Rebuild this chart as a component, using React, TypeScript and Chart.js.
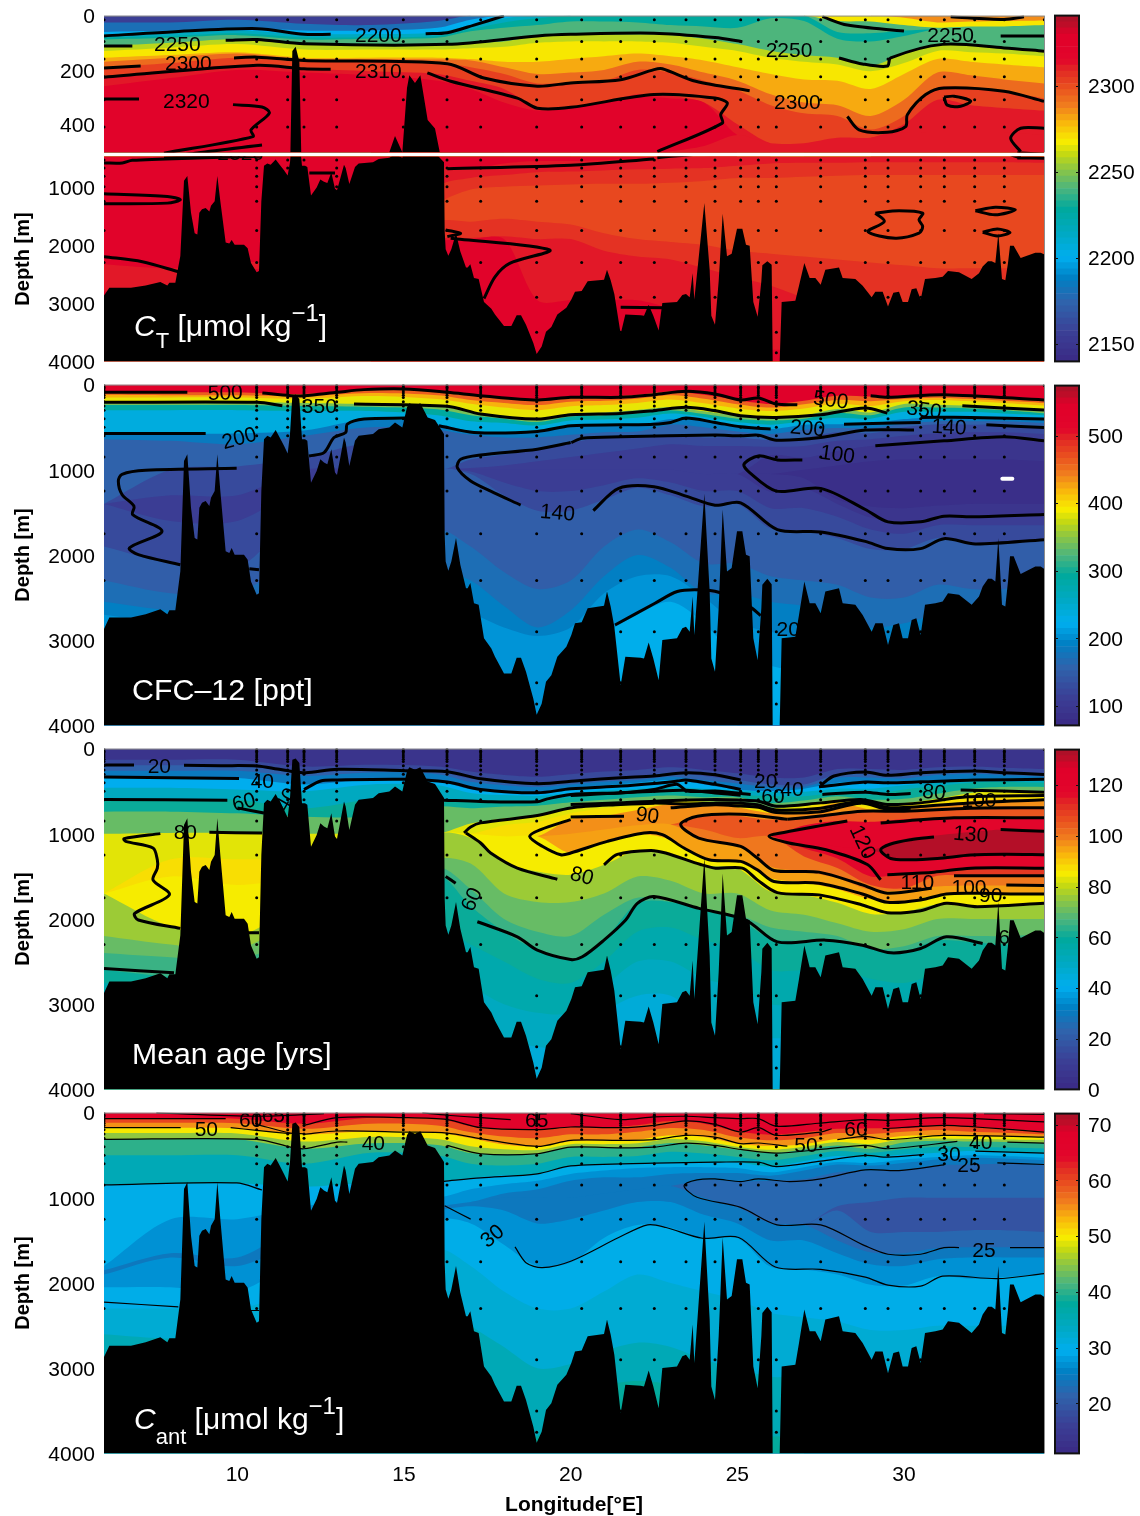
import React, { useEffect, useRef } from "react";
import { Chart, registerables } from "chart.js";
Chart.register(...registerables);

const FONT = "'Liberation Sans', Arial, sans-serif";

// ---------- shared geography ----------
const gridLon = [6,8,10,12,14,16,17,18,19,20,21,22,23,24,25,26,27,28,29,30,31,32,33,34.2];
const seabedLon = [6,6.16,6.81,7.25,7.69,7.9,7.96,8.14,8.29,8.4,8.5,8.61,8.72,8.8,8.86,8.94,9.05,9.16,9.21,9.32,9.4,9.49,9.65,9.76,9.83,9.92,10.2,10.31,10.41,10.58,10.65,10.72,10.8,10.9,11,11.15,11.27,11.4,11.51,11.58,11.65,11.75,11.86,11.94,12.03,12.1,12.21,12.38,12.49,12.6,12.7,12.82,12.93,12.99,13.09,13.2,13.25,13.36,13.53,13.64,14.07,14.24,14.56,14.73,14.95,15.09,15.16,15.33,15.49,15.71,15.93,16.2,16.22,16.25,16.33,16.42,16.56,16.69,16.86,16.91,16.99,17.1,17.24,17.4,17.62,17.73,18,18.22,18.38,18.51,18.66,18.88,18.98,19.13,19.26,19.42,19.6,19.87,20.02,20.13,20.33,20.51,21,21.09,21.2,21.31,21.5,21.64,22.1,22.2,22.34,22.48,22.64,22.75,23.19,23.35,23.46,23.57,23.66,23.71,23.81,24.01,24.17,24.22,24.33,24.44,24.56,24.69,24.83,24.99,25.15,25.26,25.37,25.48,25.61,25.72,25.75,25.9,26.03,26.06,26.27,26.33,26.74,26.85,27.01,27.17,27.34,27.5,27.64,28.05,28.16,28.54,28.76,29.03,29.14,29.36,29.52,29.68,29.85,29.96,30.12,30.23,30.37,30.5,30.63,30.94,31.16,31.32,31.65,32.03,32.25,32.36,32.52,32.63,32.74,32.83,32.94,33.04,33.12,33.18,33.29,33.5,33.94,34.1,34.24];
const seabedDepth = [2868,2735,2735,2695,2636,2695,2648,2648,2192,896,817,1446,1800,1819,1446,1387,1367,1426,1328,1250,817,1250,1957,1976,1917,1996,1996,2055,2310,2467,2448,1250,640,601,621,534,621,719,809,581,130,115,169,640,640,660,1151,1014,876,915,935,758,1033,1061,856,621,680,955,660,601,581,523,503,444,503,267,220,248,220,385,416,581,1760,2075,2185,2075,1800,2114,2389,2389,2330,2566,2585,2978,3096,3194,3391,3391,3206,3206,3371,3686,3874,3745,3489,3411,3194,3077,2939,2802,2790,2625,2597,2428,2605,2841,3529,3194,3206,3214,3026,3214,3470,2998,2978,2860,2841,2900,2487,2939,2389,1281,2428,3214,3371,2625,1466,2193,2153,1721,1721,1996,2016,2978,3234,2625,2350,2279,2342,4000,4000,2978,2959,2703,2310,2566,2566,2684,2428,2389,2566,2585,2703,2900,2802,2802,3057,2821,2802,2978,2978,2762,2743,2939,2585,2566,2546,2448,2467,2585,2487,2369,2279,2279,2310,1800,2585,2605,2310,2016,2016,2224,2134,2134,2173];
const stationLon = [6,10.58,11.51,12,12.98,14.98,16.29,17.3,18.98,20.33,21.5,22.51,23.46,24.33,25.1,25.63,26.17,27.5,28.84,29.52,30.5,31.21,32.12,33.01,34.21];
const stationBottom = [2860,2440,800,640,1050,500,2180,2580,3850,2780,3520,3420,2830,3360,1720,3200,4000,2680,2700,3050,2930,2530,2560,2600,2170];
const levelsCT = [15,95,160,225,310,410,540,680,820,1000,1250,1750,2300,2900,3500,3850];
const levelsDense = [10,30,50,75,100,125,150,200,250,300,400,500,600,850,1250,1750,2300,2900,3500,3750];

// ---------- colour ramp of the colour bars ----------
const rampAt = [0,.08,.17,.24,.3,.37,.44,.5,.56,.6,.635,.69,.74,.8,.84,.87,.945,.97,1];
const rampHex = ["#3A2A85","#3B3F95","#2F63AC","#0080C4","#00AEEF","#00A9C2","#00A99D","#4DB57C","#93C83E","#C7DA10","#F7EC00","#F9B60C","#F07C1E","#E8481F","#E22A24","#E2062B","#E0002A","#C00C28","#A81228"];
const barSteps = 56;

// ---------- CT ----------
const ctTicks = [2150,2200,2250,2300];
const ctLayers: [number, number[]][] = [
[2285,[0,0,0,0,0,0,0,0,0,0,0,0,0,0,0,0,0,0,0,0,0,0,0,0]],
[2268,[0,0,0,0,0,0,0,0,0,0,0,0,0,0,0,0,0,0,0,8,25,22,20,18]],
[2240,[0,0,0,0,0,0,0,0,0,0,0,0,0,0,0,0,0,20,22,35,45,40,40,35]],
[2155,[0,0,0,0,0,0,0,0,0,0,0,0,0,0,0,0,0,60,65,55,48,42,42,38]],
[2180,[25,25,15,30,35,20,0,0,0,0,0,0,0,0,0,0,0,60,65,55,48,42,42,38]],
[2200,[60,55,45,55,55,45,15,0,0,0,0,0,0,0,0,0,0,60,65,55,48,42,42,38]],
[2215,[68,62,55,68,68,62,35,10,0,0,0,0,0,0,0,0,0,60,65,55,48,42,42,38]],
[2228,[80,75,65,80,80,75,50,25,10,0,0,0,0,0,0,0,0,60,65,55,48,42,42,38]],
[2240,[88,82,72,88,85,82,58,45,35,22,22,25,35,40,45,10,20,85,95,75,48,42,42,38]],
[2258,[112,100,87,107,107,105,100,95,75,70,70,70,72,85,105,130,145,155,185,140,106,110,120,131]],
[2268,[130,118,105,125,125,125,120,115,100,95,95,95,100,115,130,155,170,180,205,175,130,135,140,150]],
[2280,[155,145,135,155,155,155,160,170,170,160,150,140,150,165,190,215,235,240,270,215,160,170,180,190]],
[2292,[170,155,140,160,160,162,165,190,215,210,200,170,180,210,240,290,320,330,370,310,210,220,235,250]],
[2302,[192,175,155,170,170,175,190,215,250,245,240,200,210,240,275,330,360,370,420,370,265,270,280,305]],
[2311,[227,200,183,196,205,215,240,270,340,338,320,290,295,320,400,470,470,450,450,400,310,330,340,350]],
[2322,[260,230,200,210,220,240,270,320,350,340,320,300,305,320,440,470,470,450,450,430,430,430,430,440]],
[2311,[2330,2400,2300,2300,2300,700,700,600,560,560,540,520,500,480,440,470,470,450,450,430,430,430,430,440]],
[2306,[2330,2400,2300,2300,2300,1000,850,800,750,740,720,700,690,680,640,600,590,590,580,580,580,580,580,590]],
[2300,[2330,2400,2300,2300,2300,1300,1050,1000,980,960,950,950,930,900,850,850,830,810,800,800,800,800,800,800]],
[2306,[2330,2400,2300,2300,2300,1600,1600,1550,1600,1650,1800,1900,1950,2000,2100,2150,2200,2250,2300,2350,2400,2400,2400,2400]],
[2311,[2330,2400,2300,2300,2300,1900,1880,1850,1900,1900,2100,2200,2250,2400,2550,2700,2900,3000,3100,3200,3250,3250,3300,3300]],
[2322,[2800,2800,2450,2400,2400,1950,1900,1900,2950,2950,2950,2950,3100,3400,3800,3800,3800,3800,3800,3800,3800,3800,3800,3800]],
];
const ctContours = [
[6,75,8,60,10.6,48,12,69,12.8,69],[15.65,67,16.3,63,17.1,35,18,1],
[6,112,6.85,112],[9.65,91,10.6,88,12,104,16.3,106,19,75,20,69,22.5,65,24.33,81,25.15,96],
[28.05,156,28.75,178,29.5,186,29.6,156,31.16,106,33,119,34.2,131],[27.55,4,28.3,35,30,57],[31.4,4,33,14,33.6,4],[32.9,75,34.2,75],
[6,193,7.1,186],[9.9,156,10.6,153,12,165,16.3,177,17.4,230,19,260,20,248,21.5,236,22.5,199,22.75,196,23.75,242,25.37,277],
[28.3,372,28.65,421,29.5,430,30.05,409,30.1,365,30.65,291,31.2,267,33,279,34.2,316],
[31.2,300,31.5,297,32,315,31.7,334,31.3,330,31.2,300],
[6,227,10.6,183,12,196,12.8,198],[15.7,211,16.4,242,18.4,304,19,341,20,338,22.5,291,24.33,304,24.7,322,24.5,365,24.55,396,22.6,501],
[22.5,523,20,632,16.3,690],[34.2,415,33.5,415,33.2,452,33.5,501],[33.4,505,34.2,511],
[6,307,7.05,307],[9.87,328,10.74,337,10.96,359,10.41,421,10.47,446,7.8,507],[6,592,6.55,592,6.85,546,8.8,506,10.74,477],[12.16,764,12.93,764],
[6,1120,7.9,1167,8.29,1224,7.9,1282,6,1293],[6,2202,7.15,2288,8.24,2461],
[16.4,1885,19.37,2087,18.17,2317,17.73,2547,17.4,2920],[16.25,1742,16.7,1800,16.3,1857],[21.5,3070,22.75,3080],
[29.14,1454,29.85,1414,30.56,1454,30.45,1569,30.56,1684,30.45,1799,29.74,1885,28.92,1771,29.41,1598,29.14,1454],
[32.14,1414,32.74,1351,33.34,1397,32.74,1483,32.14,1414],[32.36,1782,32.8,1725,33.18,1787,32.8,1845,32.36,1782],
];
const ctLabelsUpper: [string,number,number,number][] = [
["2250",8.2,100,0],["2300",8.53,170,0],["2320",8.47,311,0],["2200",14.23,67,0],["2310",14.23,200,0],["2250",26.55,122,0],["2300",26.8,315,0],["2250",31.4,70,0],
];
const ctLabelsLower: [string,number,number,number][] = [["2320",10.1,414,0]];

// ---------- CFC-12 ----------
const cfcTicks = [100,200,300,400,500];
const cfcLayers: [number, number[]][] = [
[540,[0,0,0,0,0,0,0,0,0,0,0,0,0,0,0,0,0,0,0,0,0,0,0,0]],
[460,[90,90,90,110,50,80,118,150,180,150,141,118,80,118,180,228,190,130,141,130,118,130,157,180]],
[420,[120,125,125,135,100,125,180,215,240,200,190,165,125,165,230,270,230,180,195,170,155,170,190,215]],
[385,[150,150,150,165,135,170,225,270,300,255,240,215,175,220,280,310,280,225,250,195,180,195,215,245]],
[340,[208,208,208,215,228,248,326,365,405,338,326,298,267,314,365,385,365,287,326,228,236,248,267,306]],
[290,[240,240,240,250,260,290,360,400,440,375,360,335,300,345,400,420,400,330,360,270,270,280,300,335]],
[235,[300,300,300,310,310,360,430,450,480,420,410,390,340,380,440,470,430,390,400,320,320,320,340,360]],
[185,[574,574,574,540,405,464,542,562,550,495,483,483,405,424,483,522,471,464,456,405,385,385,385,397]],
[155,[640,660,700,600,500,530,590,620,620,590,560,550,470,500,550,580,530,510,510,460,430,430,430,450]],
[125,[1400,1000,960,860,700,1000,880,820,770,680,620,610,590,620,620,650,620,560,570,500,465,470,470,500]],
[108,[1400,1300,1300,1000,1000,1000,980,950,900,850,800,750,700,720,720,730,720,660,640,600,570,560,560,580]],
[92,[1400,1300,1300,1000,1000,1000,1000,1000,1000,1000,1000,1000,1000,1050,1050,830,860,780,720,700,680,660,630,660]],
[80,[1400,1300,1300,1000,1000,1000,1000,1000,1000,1000,1000,1000,1000,1050,1050,1050,1000,950,900,880,880,880,880,900]],
[92,[1400,1300,1300,1000,1000,1000,1000,1000,1000,1000,1000,1000,1000,1050,1050,1050,1100,1350,1430,1450,1420,1400,1400,1400]],
[108,[1400,1300,1300,1000,1000,1000,1000,1000,1000,1000,1000,1000,1000,1050,1050,1260,1220,1400,1560,1610,1550,1530,1530,1530]],
[125,[1400,1600,1600,1200,1100,1000,1020,1150,1250,1250,1180,1100,1150,1250,1250,1450,1450,1550,1700,1750,1650,1650,1650,1650]],
[150,[1900,2100,2150,1500,1500,1000,1050,1300,1480,1480,1350,1210,1300,1430,1400,1690,1720,1800,1930,1930,1800,1860,1860,1820]],
[170,[2300,2450,2450,2000,2000,1700,1900,2200,2400,2300,1900,1700,1850,2100,2100,2250,2300,2350,2500,2500,2350,2400,2400,2200]],
[190,[2550,2650,2650,2500,2500,2200,2300,2600,2850,2650,2250,2000,2150,2450,2450,2550,2600,2700,2850,2800,2700,2700,2700,2500]],
[205,[2700,2800,2800,2800,2800,2800,2700,2850,2950,2850,2450,2250,2250,2500,2800,2900,3000,3100,3200,3200,3200,3200,3200,3200]],
[225,[3400,3400,3400,3400,3400,3400,3400,3800,3900,3500,2950,2700,2550,2800,3200,3300,3400,3500,3500,3500,3500,3500,3500,3500]],
];
const cfcContours = [
[6,90,8.5,90],[10.75,98,11.6,130,12,130,13,90,13.8,59,15,51,16.3,90,17.3,130,19,181,20,149,21.5,149,22.5,118,23.46,79,24.33,110,25.1,181,25.63,157,26.17,228,26.8,236],[29,130,29.5,149,31.2,118,34.2,181],
[6,208,10.6,208,11.35,248],[13.5,228,16.3,255,17.3,346,19,405,20,354,21.5,338,22.5,306,23.46,267,24.33,306,25.1,365,26.17,385,27.5,354,28.84,275,29.5,334],[31.75,248,34.2,299],
[6,574,9.05,574],[12.15,837,12.6,798,12.9,621,13.25,562,13.3,464,13.8,405,15.05,393],[16.05,483,17.1,562,19,550,20,483,21.5,472,22.5,464,23,444,23.46,393,24.33,444,25.1,495,26,522],[28.2,464,30.5,444],[30.5,385,32,385,34.2,405],
[20,680,19,758,17.3,825,16.7,876,16.6,975,17,1132,17.6,1250,18.5,1415],[20.02,680,20.35,629,21.5,613,24.33,593,25.1,601,25.63,593,26.17,652,27.5,621,28.84,534,30.3,534],
[9.98,983,7.25,1006,6.54,1053,6.43,1132,6.54,1289,6.9,1427,6.86,1525,7.74,1721,6.76,1918,7.03,1996,8.29,2114],[10.36,2161,10.65,2173],
[20.68,1478,21.44,1218,22.5,1198,23.46,1309,24.33,1415,25.1,1387,26.2,1702,27.5,1729,28.84,1840,29.52,1925,30.5,1925,31.2,1808,32.14,1871,34.2,1820],
[29.14,719,31.2,660,33,613,34.2,660],[32.47,472,34.2,503],
[26.95,884,26.2,884,25.63,837,25.2,935,25.37,1034,26.17,1250,27.5,1218,28.84,1466,29.52,1611,30.5,1611,31.2,1544,32.14,1552,34.2,1525],
[21.33,2822,22.53,2566,23.2,2429,23.8,2409,24.44,2437,25.37,2606,25.7,2712],
];
const cfcLabels: [string,number,number,number][] = [
["500",9.64,83,-2],["350",12.46,237,0],["200",10.06,615,-15],["140",19.6,1490,5],["500",27.8,166,8],["350",30.6,284,8],["200",27.1,497,5],["140",31.35,485,3],["100",28,805,8],["200",26.7,2860,0],
];
const cfcHole = [32.95,1105,33.25,1105];

// ---------- mean age ----------
const ageTicks = [0,20,40,60,80,100,120];
const ageLayers: [number, number[]][] = [
[5,[0,0,0,0,0,0,0,0,0,0,0,0,0,0,0,0,0,0,0,0,0,0,0,0]],
[14,[130,130,130,210,190,210,270,310,330,300,270,250,220,250,290,340,340,240,240,250,220,210,225,240]],
[22,[192,196,200,283,243,271,354,393,413,381,342,322,283,322,369,420,420,303,303,314,275,263,283,303]],
[30,[260,260,260,320,280,300,390,430,450,420,390,370,330,370,410,450,450,340,340,350,310,295,310,330]],
[40,[334,334,345,420,365,381,479,499,511,460,432,401,369,420,479,499,470,401,381,381,369,354,354,361]],
[50,[460,460,480,500,420,430,520,545,555,525,490,470,450,470,490,510,505,470,470,430,400,370,365,370]],
[60,[597,597,600,700,600,610,610,610,610,575,538,518,500,518,538,558,558,518,538,479,440,401,393,401]],
[70,[740,740,760,800,800,680,700,680,670,630,600,570,550,570,570,640,610,560,600,590,530,470,450,450]],
[83,[1000,990,990,1000,1000,1000,880,820,786,696,650,620,600,620,630,700,660,600,650,640,590,520,500,500]],
[87,[1700,1300,1300,1300,1300,1000,1000,900,860,760,700,670,620,645,660,720,690,620,680,660,630,560,530,530]],
[97,[1700,1500,1600,1500,1400,1000,1000,1030,1030,830,790,720,650,660,690,755,735,640,715,695,675,618,598,598]],
[105,[1700,1500,1600,1500,1400,1000,1000,1030,1030,1000,950,900,890,790,790,833,794,755,735,735,720,700,680,695]],
[118,[1700,1500,1600,1500,1400,1000,1000,1030,1030,1000,950,900,890,950,1050,1030,904,850,860,830,815,813,813,813]],
[132,[1700,1500,1600,1500,1400,1000,1000,1030,1030,1000,950,900,890,950,1050,1030,1100,1150,1190,1060,1020,980,950,960]],
[118,[1700,1500,1600,1500,1400,1000,1000,1030,1030,1000,950,900,890,950,1050,1030,1100,1150,1190,1305,1290,1250,1240,1245]],
[110,[1700,1500,1600,1500,1400,1000,1000,1030,1030,1000,950,900,890,950,1050,1030,1170,1290,1500,1470,1440,1420,1410,1403]],
[100,[1700,1500,1600,1500,1400,1000,1000,1030,1030,1000,950,900,890,950,1050,1030,1265,1400,1600,1640,1493,1493,1493,1493]],
[95,[1700,1500,1600,1500,1400,1000,1000,1030,1030,1000,950,900,890,1069,1140,1383,1442,1521,1658,1666,1619,1607,1607,1607]],
[85,[1700,1500,1600,1500,1400,1000,1000,1030,1030,1226,1089,1002,1069,1297,1324,1521,1572,1650,1768,1788,1717,1698,1706,1706]],
[76,[1700,2090,2200,1800,1500,1000,1050,1344,1442,1480,1364,1195,1240,1370,1403,1680,1717,1810,1940,1920,1830,1855,1830,1815]],
[70,[2200,2300,2350,2000,1800,1300,1350,1700,1800,1800,1700,1500,1550,1700,1700,1900,1950,2050,2150,2120,2000,2000,2000,2000]],
[65,[2400,2450,2480,2200,2000,1400,1650,2000,2150,2200,1950,1750,1800,1950,1950,2100,2150,2200,2350,2320,2200,2200,2200,2180]],
[60,[2593,2680,2700,2500,2300,1500,1850,2150,2366,2476,2248,1816,1800,1890,1990,2230,2260,2270,2340,2380,2250,2270,2300,2300]],
[55,[2750,2800,2800,2800,2600,2100,2300,2500,2700,2750,2500,2150,2100,2250,2350,2600,2600,2600,2700,2750,2650,2650,2700,2650]],
[50,[2850,3000,3000,3000,3000,2700,2800,3000,3100,3100,2800,2500,2500,2700,2800,3000,3000,3000,3100,3200,3200,3200,3200,3200]],
[45,[3000,3300,3300,3300,3300,3100,3200,3400,3500,3500,3100,2900,2900,3200,3400,3400,3400,3400,3500,3500,3500,3500,3500,3500]],
];
const ageContours = [
[6,192,6.9,192],[8.4,196,9.5,200,10.6,204,11.2,240,11.6,265,12.05,283,13,243,15,259,16.3,271,17.3,354,19,413,20.3,375,21.5,342,22.5,322,23.46,283,24.33,307,25.1,369],[27.5,432,27.9,322,28.84,275,29.5,314,30.5,283,32.1,263,33,283,34.2,303],
[6,334,10.05,350],[12,480,12.5,380,13,369,15,361,16.3,393,17.3,479,19,519,20,472,21.5,440,22.5,409,23.2,381,23.46,369,24.33,420,25.1,479],
[20,550,21.5,519,22.5,479,23.2,420,23.5,499,24.33,499,25.4,538],[27.45,448,28.84,393,29.5,401,30.5,390,32.1,370,34.2,361],
[6,597,9.7,605],[10,696,10.8,755],[16.2,605,17.3,620,19,625,19.3,590,20,538,21.5,520,22.5,500,23.46,490,24.33,520,25.1,548],[27.55,538,28.84,511,29.5,538,30.2,527],[31.7,487,34.2,511],
[20,656,21.5,637,22.5,617,24.33,597,25.1,605,25.63,617,26.17,676,27.5,637,28.7,597,29.5,656,30.5,637,31.9,566,34.2,550],
[16.8,990,17,920,17.3,872,19,786,20,696,21.5,656,22.5,640,23.46,650,24.33,640,25.1,640,25.6,660,26.17,720,27.5,700,28.7,620,29.5,690,30.5,680,31.9,640,34.2,600],
[7.69,998,6.6,1057,6.65,1089,7.47,1167,7.6,1305,7.6,1403,7.47,1541,7.96,1717,6.92,1934,7.03,2012,8.29,2110],[9.16,983,10.74,990],[10.3,2160,10.65,2160],
[16.86,990,17.3,1108,17.6,1226,18.4,1403,19.6,1533],[21,1364,21.4,1242,22.4,1195,22.85,1226,23.9,1360,24.35,1403,25.15,1403,25.6,1541,26.2,1690,27.45,1717,28.75,1835,29.5,1926,30.5,1902,31.27,1815,32.2,1855,34.2,1815],
[20,802,21.6,794],[23,695,24.33,660,25.1,675,25.63,690,26.17,750,27.5,740,28.7,640,29.5,710,30.2,700],
[20,833,19.1,950,18.77,1030,19.15,1147,19.7,1246,20,1226,21.1,1089,22.2,990,22.75,1010,23.4,1167,24.15,1305,25.1,1324,25.6,1423,26.1,1560,27.45,1580,28.75,1706,29.5,1804,30.5,1777,31.27,1706,32.2,1698,33.4,1706,34.2,1706],
[26.5,830,25.1,770,23.8,794,23.3,892,23.84,1050,25.1,1148,25.6,1285,26.1,1430,27.45,1450,28.75,1600,29.5,1698,30.83,1639],[26.5,830,27.5,790,28.75,735,30,735,32,700,34.2,695],[33.07,1600,34.2,1607],[31.5,1493,34.2,1493],
[28.3,850,27.5,904,26.57,971,25.95,1030,26.55,1108,27.66,1187,28.9,1360,29.3,1540],[29.3,872,31.5,813,34.2,813],[29.5,1480,30.9,1450,32,1403,34.2,1403],
[30.9,1037,30.2,1070,29.6,1120,29.3,1190,29.6,1290,30.2,1305,31,1290,32,1250,33,1240,34.2,1245],[32.9,950,34.2,971],
[17.2,2032,18.4,2209,19,2366,20,2476,20.35,2444,21,2248,21.65,2012,22,1816,22.5,1737,23.85,1875,25.25,2012,26.2,2268,27.65,2248,28.75,2307,29.6,2397,30.5,2346,31.27,2209,32.36,2287],[16.25,1500,16.55,1580],[6,2582,8.1,2630],
];
const ageLabels: [string,number,number,number][] = [
["20",7.66,190,0],["40",10.75,367,0],["60",10.2,615,-15],["80",8.44,970,0],["40",11.5,580,-60],["60",17.05,1750,-65],["90",22.3,770,8],["80",20.33,1480,15],["20",25.85,367,0],["40",26.64,460,0],["60",26.07,545,0],["80",30.9,497,5],["100",32.25,592,0],["120",28.74,1077,65],["130",32,994,5],["110",30.4,1562,0],["100",31.95,1610,0],["90",32.6,1704,0],["6",33,2200,0],
];

// ---------- Cant ----------
const cantTicks = [20,30,40,50,60,70];
const cantLayers: [number, number[]][] = [
[66,[0,0,0,0,0,0,0,0,0,0,0,0,0,0,0,0,0,0,0,0,0,0,0,0]],
[60,[71,71,71,130,59,70,160,190,200,169,177,149,100,130,220,260,230,190,185,185,150,165,185,228]],
[55,[120,120,125,190,130,150,230,280,300,255,255,225,180,205,290,325,300,240,250,225,205,225,235,255]],
[50,[177,177,185,255,220,235,300,375,397,335,326,318,267,287,365,390,370,310,318,275,267,272,278,287]],
[45,[240,240,245,340,285,310,395,430,440,370,370,360,310,335,400,435,400,345,370,310,305,310,315,320]],
[40,[314,314,314,424,360,380,475,490,483,405,413,405,358,385,432,475,432,385,424,350,330,340,345,358]],
[35,[500,500,500,600,470,500,600,620,600,520,520,510,460,480,520,560,510,450,470,430,400,405,410,420]],
[30,[849,835,830,870,820,806,766,735,719,625,610,593,585,582,582,633,570,510,523,491,470,452,460,475]],
[27,[1800,1250,1250,1100,1000,1000,900,840,800,720,680,650,640,640,650,700,640,580,590,550,520,500,510,530]],
[24.5,[1850,1650,1700,1300,1200,1100,1050,950,900,800,760,760,720,710,710,740,680,610,620,590,550,530,540,560]],
[22,[1850,1650,1700,1300,1200,1100,1050,1000,1000,1000,950,900,860,790,810,800,780,700,680,670,620,610,600,610]],
[19,[1850,1650,1700,1300,1200,1100,1050,1000,1000,1000,950,900,860,1000,1112,1300,1317,1100,1050,1000,1000,1000,1000,1000]],
[22,[1850,1650,1700,1300,1200,1100,1050,1000,1000,1000,950,900,860,1000,1112,1300,1317,1150,1400,1400,1400,1380,1380,1400]],
[24.5,[1850,1650,1700,1300,1200,1100,1050,1000,1000,1000,950,900,860,1000,1112,1300,1317,1500,1640,1650,1590,1580,1580,1584]],
[27,[1900,1700,1800,1500,1300,1150,1100,1150,1300,1250,1150,1050,1050,1200,1300,1500,1500,1650,1780,1800,1720,1700,1700,1700]],
[30,[2050,2050,2100,1700,1500,1250,1300,1550,1800,1760,1470,1320,1350,1480,1470,1810,1840,1900,2020,2030,1920,1950,1930,1890]],
[32,[2300,2300,2300,2100,2000,1600,1800,2100,2300,2300,2100,1900,2000,2100,2200,2350,2400,2450,2550,2550,2500,2500,2500,2450]],
[35,[2600,2650,2600,2600,2600,2200,2500,2750,3000,2950,2800,2700,2750,2900,3000,3100,3100,3200,3400,3400,3400,3400,3400,3400]],
[38,[3800,3800,3800,3800,3800,3800,3800,3700,3800,3300,3200,3150,3200,3400,3800,3800,3800,3800,3800,3800,3800,3800,3800,3800]],
];
const cantContours = [
[7.57,4,10.58,43,12.6,12],[15.55,4,16.3,31,17.3,59,18.2,83],[20,12,21.5,83,22.5,51,23.46,43,24.33,59,25.1,71,25.63,71,26.17,161,27.5,122,28.84,83,29.52,90,31.2,59,34.2,110],[32.4,12,34.2,20],
[6,71,9.65,71],[10.58,138,11.6,240,12,248],[12,149,13,59,15,59,16.3,83,17.3,177,19,200,20,169,21.5,177,22.5,149,23.46,98,24.33,138,25.1,228,25.63,177,26.17,267,27.5,228,27.83,189],[29.36,189,31.2,149,32.14,169,34.2,228],
[6,177,8.3,177],[9.8,177,10.58,208,11.6,248],[12,255,13,216,15,228,16.3,240,17.3,306,19,397,20,326,21.5,326,22.5,318,23.46,267,24.33,287,25.1,365,25.63,357,26.5,393],[28,318,28.84,279,29.52,318,31.2,267,34.2,287],
[6,314,10.58,314,11.6,405,12,424,13,346,13.3,346],[16.3,385,17.3,483,19,483,20,405,21.5,413,22.5,405,23.46,358,24.33,385,25.1,432,26.17,475,27.5,432,28.84,385,29.52,424,31.6,338],[33.1,346,34.2,358],
[6,849,9.98,825,10.74,908],[16.2,806,17.3,766,19,719,20,625,22.5,593,24.33,582,25.63,582,26.17,633,27.5,570,28.84,503,29.52,523,30.6,491],[32.14,452,34.2,475],
[31.2,613,29.85,680,28.84,672,27.5,778,26.57,810,25.63,778,25.1,810,24.33,778,23.79,790,23.4,857,23.79,994,25.1,1112,26.19,1317,27.5,1317,28.84,1564,29.52,1662,30.5,1662,31.2,1584,31.65,1584],[32.8,590,34.2,609],[33.18,1584,34.2,1584],
[16.22,1093,17,1250],[18.33,1576,18.66,1761,19.15,1820,20.02,1741,21.44,1466,22.31,1317,22.86,1348,23.95,1474,25.04,1466,26.14,1812,27.5,1839,28.84,1930,29.52,2024,30.5,2036,31.16,1918,32.8,1949,34.2,1890],
[6,2224,8.23,2279],[10.4,2322,10.65,2322],
];
const cantLabels: [string,number,number,number][] = [
["50",9.07,178,0],["60",10.4,83,0],["65",11.08,24,0],["65",18.98,83,0],["40",14.08,343,0],["30",17.66,1432,-40],["50",27.06,367,0],["60",28.56,178,0],["40",32.3,331,0],["30",31.35,473,0],["25",31.95,604,0],["25",32.4,1598,0],
];

// ---------- helpers ----------
function rampColor(f: number) {
  const t = Math.max(0, Math.min(1, f));
  let i = 0;
  while (i < rampAt.length - 2 && t > rampAt[i + 1]) i++;
  const k = (t - rampAt[i]) / (rampAt[i + 1] - rampAt[i]);
  const a = parseInt(rampHex[i].slice(1), 16), b = parseInt(rampHex[i + 1].slice(1), 16);
  const mix = (s: number) => Math.round(((a >> s) & 255) * (1 - k) + ((b >> s) & 255) * k);
  return `rgb(${mix(16)},${mix(8)},${mix(0)})`;
}

type Seg = { t: string; font: string; dy: number };
const reg = (s: number) => `${s}px ${FONT}`;
const ital = (s: number) => `italic ${s}px ${FONT}`;
const ctTitle: Seg[] = [{t:"C",font:ital(30),dy:0},{t:"T",font:reg(22),dy:12},{t:" [μmol kg",font:reg(30),dy:0},{t:"−1",font:reg(24),dy:-15},{t:"]",font:reg(30),dy:0}];
const cfcTitle: Seg[] = [{t:"CFC–12 [ppt]",font:reg(30.4),dy:0}];
const ageTitle: Seg[] = [{t:"Mean age [yrs]",font:reg(30.2),dy:0}];
const cantTitle: Seg[] = [{t:"C",font:ital(30),dy:0},{t:"ant",font:reg(22),dy:15},{t:" [μmol kg",font:reg(30),dy:0},{t:"−1",font:reg(24),dy:-15},{t:"]",font:reg(30),dy:0}];

type Panel = {
  top: number; bottom: number; ymin: number; ymax: number; yTicks: number[];
  layers: [number, number[]][]; vmin: number; vmax: number; contours: number[][];
  labels: [string, number, number, number][]; levels: number[]; lw: number;
  title?: Seg[]; titleX?: number; depthTitle?: boolean; xAxis?: boolean; topLine?: boolean; hole?: number[];
};

const pad = 14;
const off = 22; // layout padding plus the room Chart.js keeps for the end tick labels

function plotChart(canvas: HTMLCanvasElement, p: Panel) {
  const datasets: any[] = [];
  p.layers.forEach(([v, arr], i) => {
    const next = p.layers[i + 1]?.[1];
    const closed = (k: number) => !!next && next[k] === arr[k];
    datasets.push({
      data: gridLon.map((x, k) => ({ x, y: arr[k] })),
      borderWidth: 0, pointRadius: 0, fill: "start", tension: 0.3,
      backgroundColor: rampColor((v - p.vmin) / (p.vmax - p.vmin)), order: 1000 - i,
      segment: {
        backgroundColor: (c: any) => (closed(c.p0DataIndex) && closed(c.p1DataIndex) ? "rgba(0,0,0,0)" : undefined),
      },
    });
  });
  const dots: { x: number; y: number }[] = [];
  stationLon.forEach((x, i) => p.levels.forEach((y) => { if (y < stationBottom[i]) dots.push({ x, y }); }));
  datasets.push({ data: dots, showLine: false, pointRadius: 1.5, pointBackgroundColor: "#000", pointBorderWidth: 0, fill: false, order: 400 });
  datasets.push({
    data: seabedLon.map((x, k) => ({ x, y: seabedDepth[k] })),
    borderWidth: 0, pointRadius: 0, fill: "start", backgroundColor: "#000", tension: 0, order: 200,
  });
  p.contours.forEach((c) => {
    const pts: { x: number; y: number }[] = [];
    for (let i = 0; i < c.length; i += 2) pts.push({ x: c[i], y: c[i + 1] });
    datasets.push({ data: pts, borderColor: "#000", borderWidth: p.lw, pointRadius: 0, fill: false, tension: 0.3, order: 100 });
  });
  if (p.hole) datasets.push({
    data: [{ x: p.hole[0], y: p.hole[1] }, { x: p.hole[2], y: p.hole[3] }],
    borderColor: "#fff", borderWidth: 4, pointRadius: 0, fill: false, borderCapStyle: "round", order: 90,
  });

  const overlay = {
    id: "overlay",
    afterDatasetsDraw(ch: any) {
      const { ctx, chartArea: a, scales } = ch;
      ctx.save();
      ctx.beginPath(); ctx.rect(a.left, a.top, a.right - a.left, a.bottom - a.top); ctx.clip();
      ctx.fillStyle = "#000"; ctx.font = reg(21); ctx.textAlign = "center"; ctx.textBaseline = "middle";
      p.labels.forEach(([t, lon, d, rot]) => {
        ctx.save();
        ctx.translate(scales.x.getPixelForValue(lon), scales.y.getPixelForValue(d) + 2);
        ctx.rotate((rot * Math.PI) / 180);
        ctx.fillText(t, 0, 0);
        ctx.restore();
      });
      ctx.restore();
      ctx.save();
      if (p.title) {
        let x = a.left + (p.titleX ?? 30); const y = a.bottom - 25;
        ctx.fillStyle = "#fff"; ctx.textAlign = "left"; ctx.textBaseline = "alphabetic";
        p.title.forEach((s) => { ctx.font = s.font; ctx.fillText(s.t, x, y + s.dy); x += ctx.measureText(s.t).width; });
      }
      ctx.strokeStyle = "#8c8c8c"; ctx.lineWidth = 1;
      ctx.beginPath();
      ctx.moveTo(a.right + 0.5, a.top); ctx.lineTo(a.right + 0.5, a.bottom);
      if (p.topLine) { ctx.moveTo(a.left, a.top + 0.5); ctx.lineTo(a.right, a.top + 0.5); }
      ctx.stroke();
      ctx.restore();
    },
  };

  return new Chart(canvas, {
    type: "line",
    data: { datasets },
    plugins: [overlay],
    options: {
      responsive: false, animation: false, events: [],
      layout: { padding: { top: pad, right: 6, bottom: p.xAxis ? 0 : pad, left: 0 } },
      plugins: { legend: { display: false }, tooltip: { enabled: false } },
      scales: {
        x: {
          type: "linear", min: 6, max: 34.2, display: !!p.xAxis,
          grid: { display: false, drawTicks: false }, border: { display: false },
          ticks: { font: { family: FONT, size: 21 }, color: "#000", padding: 9, maxRotation: 0, callback: (v: any) => String(v) },
          afterBuildTicks: (s: any) => { s.ticks = [10, 15, 20, 25, 30].map((value) => ({ value })); },
          afterFit: (s: any) => { if (p.xAxis) s.height = 64.5; },
          title: { display: !!p.xAxis, text: "Longitude[°E]", color: "#000", font: { family: FONT, size: 21, weight: "bold" }, padding: { top: 0, bottom: 0 } },
        },
        y: {
          type: "linear", reverse: true, min: p.ymin, max: p.ymax,
          grid: { display: false, drawTicks: false }, border: { display: false },
          ticks: { font: { family: FONT, size: 21 }, color: "#000", padding: 9, labelOffset: 2, callback: (v: any) => String(v) },
          afterBuildTicks: (s: any) => { s.ticks = p.yTicks.map((value) => ({ value })); },
          afterFit: (s: any) => { s.width = 104; },
          title: { display: !!p.depthTitle, text: "Depth [m]", color: "#000", font: { family: FONT, size: 20, weight: "bold" }, padding: { top: 11, bottom: 0 } },
        },
      },
    } as any,
  });
}

function barChart(canvas: HTMLCanvasElement, b: { vmin: number; vmax: number; ticks: number[] }) {
  const step = (b.vmax - b.vmin) / barSteps;
  const datasets = Array.from({ length: barSteps }, (_, i) => ({
    data: [i === 0 ? b.vmin + step : step],
    backgroundColor: rampColor((i + 0.5) / barSteps), borderWidth: 0, barPercentage: 1, categoryPercentage: 1,
  }));
  const frame = {
    id: "frame",
    afterDatasetsDraw(ch: any) {
      const { ctx, chartArea: a, scales } = ch;
      ctx.save();
      ctx.strokeStyle = "#111"; ctx.lineWidth = 2;
      ctx.strokeRect(a.left, a.top, a.right - a.left, a.bottom - a.top);
      ctx.lineWidth = 1; ctx.beginPath();
      b.ticks.forEach((v) => {
        const y = Math.round(scales.y.getPixelForValue(v)) + 0.5;
        ctx.moveTo(a.left, y); ctx.lineTo(a.left + 3, y);
        ctx.moveTo(a.right - 3, y); ctx.lineTo(a.right, y);
      });
      ctx.stroke();
      ctx.restore();
    },
  };
  return new Chart(canvas, {
    type: "bar",
    data: { labels: [""], datasets },
    plugins: [frame],
    options: {
      responsive: false, animation: false, events: [],
      layout: { padding: { top: pad, bottom: pad, left: 10, right: 0 } },
      plugins: { legend: { display: false }, tooltip: { enabled: false } },
      scales: {
        x: { stacked: true, display: false },
        y: {
          stacked: true, position: "right", min: b.vmin, max: b.vmax,
          grid: { display: false, drawTicks: false }, border: { display: false },
          ticks: { font: { family: FONT, size: 21 }, color: "#000", padding: 9, labelOffset: 1.5, callback: (v: any) => String(v) },
          afterBuildTicks: (s: any) => { s.ticks = b.ticks.map((value) => ({ value })); },
          afterFit: (s: any) => { s.width = 61; },
        },
      },
    } as any,
  });
}

const panels: Panel[] = [
  { top: 16, bottom: 152, ymin: 0, ymax: 504, yTicks: [0,200,400], layers: ctLayers, vmin: 2140, vmax: 2340, contours: ctContours, labels: ctLabelsUpper, levels: levelsCT, lw: 3, topLine: true },
  { top: 157, bottom: 361, ymin: 483, ymax: 4000, yTicks: [1000,2000,3000,4000], layers: ctLayers, vmin: 2140, vmax: 2340, contours: ctContours, labels: ctLabelsLower, levels: levelsCT, lw: 3, title: ctTitle, depthTitle: true },
  { top: 385, bottom: 725, ymin: 0, ymax: 4000, yTicks: [0,1000,2000,3000,4000], layers: cfcLayers, vmin: 71, vmax: 574, contours: cfcContours, labels: cfcLabels, levels: levelsDense, lw: 3, title: cfcTitle, titleX: 28, depthTitle: true, topLine: true, hole: cfcHole },
  { top: 749, bottom: 1089, ymin: 0, ymax: 4000, yTicks: [0,1000,2000,3000,4000], layers: ageLayers, vmin: 0, vmax: 134, contours: ageContours, labels: ageLabels, levels: levelsDense, lw: 3, title: ageTitle, titleX: 28, depthTitle: true, topLine: true },
  { top: 1113, bottom: 1453, ymin: 0, ymax: 4000, yTicks: [0,1000,2000,3000,4000], layers: cantLayers, vmin: 11, vmax: 72, contours: cantContours, labels: cantLabels, levels: levelsDense, lw: 1.2, title: cantTitle, depthTitle: true, topLine: true, xAxis: true },
];
const bars = [
  { top: 16, bottom: 361, vmin: 2140, vmax: 2340.7, ticks: ctTicks },
  { top: 386, bottom: 725, vmin: 71, vmax: 574, ticks: cfcTicks },
  { top: 750, bottom: 1089, vmin: 0, vmax: 134, ticks: ageTicks },
  { top: 1114, bottom: 1453, vmin: 11, vmax: 72, ticks: cantTicks },
];

export default function App() {
  const plotRefs = useRef<(HTMLCanvasElement | null)[]>([]);
  const barRefs = useRef<(HTMLCanvasElement | null)[]>([]);
  useEffect(() => {
    const charts: Chart[] = [];
    panels.forEach((p, i) => charts.push(plotChart(plotRefs.current[i]!, p)));
    bars.forEach((b, i) => charts.push(barChart(barRefs.current[i]!, b)));
    return () => charts.forEach((c) => c.destroy());
  }, []);
  return (
    <div style={{ position: "absolute", left: 0, top: 0, width: 1140, height: 1516, background: "#fff", overflow: "hidden" }}>
      {panels.map((p, i) => {
        const h = p.xAxis ? 1518 - (p.top - off) : p.bottom - p.top + 2 * off;
        return (
          <canvas key={i} ref={(el) => { plotRefs.current[i] = el; }} width={1050} height={h}
            style={{ position: "absolute", left: 0, top: p.top - off, width: 1050, height: h }} />
        );
      })}
      {bars.map((b, i) => (
        <canvas key={i} ref={(el) => { barRefs.current[i] = el; }} width={95} height={b.bottom - b.top + 2 * off}
          style={{ position: "absolute", left: 1045, top: b.top - off, width: 95, height: b.bottom - b.top + 2 * off }} />
      ))}
    </div>
  );
}
